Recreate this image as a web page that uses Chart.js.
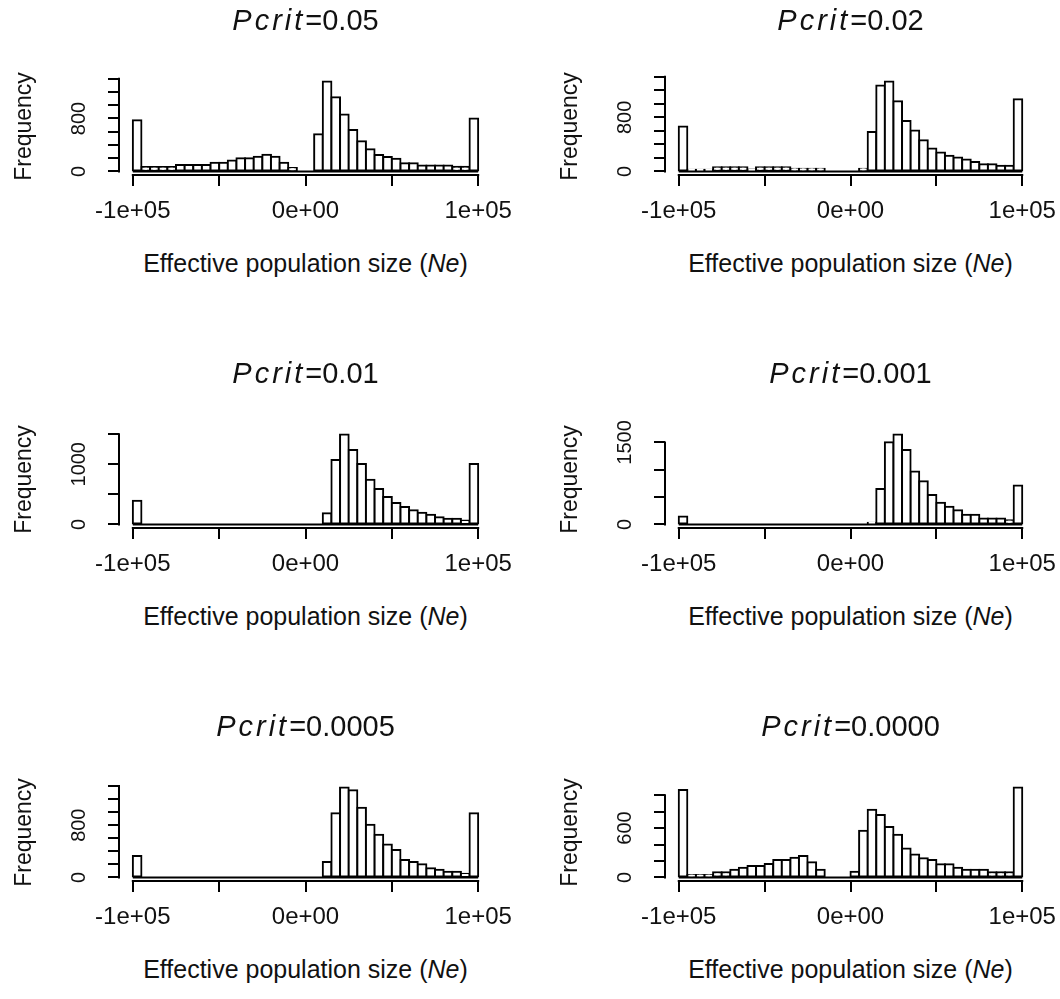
<!DOCTYPE html>
<html>
<head>
<meta charset="utf-8">
<script src="https://cdn.jsdelivr.net/npm/chart.js@4.4.1/dist/chart.umd.min.js"></script>
<style>
  html, body { margin: 0; padding: 0; background: #fff; overflow: hidden; }
  body { width: 1060px; height: 999px; position: relative; font-family: "Liberation Sans", Arial, sans-serif; color: #111; }
  canvas.panel { position: absolute; }
  .ttl { position: absolute; width: 400px; text-align: center; font-size: 29px; line-height: 34px; white-space: nowrap; }
  .ttl i { letter-spacing: 3px; }
  .xt { position: absolute; width: 440px; text-align: center; font-size: 25px; line-height: 30px; white-space: nowrap; }
</style>
</head>
<body>
<script>
// histogram breaks (Ne), 40 bins of 5000
const breaks = [-100000, -95000, -90000, -85000, -80000, -75000, -70000, -65000, -60000, -55000,
  -50000, -45000, -40000, -35000, -30000, -25000, -20000, -15000, -10000, -5000, 0,
  5000, 10000, 15000, 20000, 25000, 30000, 35000, 40000, 45000, 50000,
  55000, 60000, 65000, 70000, 75000, 80000, 85000, 90000, 95000, 100000];

const pcrit = ['0.05', '0.02', '0.01', '0.001', '0.0005', '0.0000'];

// counts per bin
const counts005 = [775, 65, 65, 65, 65, 95, 95, 95, 95, 130, 130, 165, 200, 200, 220, 250, 220, 130, 50, 0,
  0, 563, 1358, 1121, 860, 627, 455, 336, 247, 217, 193, 124, 124, 89, 89, 89, 89, 69, 69, 800];
const counts002 = [665, 25, 25, 25, 63, 63, 63, 63, 30, 63, 63, 63, 63, 40, 40, 40, 40, 0, 0, 0,
  0, 40, 582, 1270, 1329, 1038, 747, 606, 461, 340, 281, 233, 204, 175, 141, 107, 107, 82, 82, 1067];
const counts001 = [395, 0, 0, 0, 0, 0, 0, 0, 0, 0, 0, 0, 0, 0, 0, 0, 0, 0, 0, 0,
  0, 0, 187, 1071, 1493, 1235, 1005, 741, 587, 456, 357, 291, 236, 192, 159, 121, 93, 93, 66, 1005];
const counts0001 = [144, 0, 0, 0, 0, 0, 0, 0, 0, 0, 0, 0, 0, 0, 0, 0, 0, 0, 0, 0,
  0, 0, 30, 650, 1505, 1643, 1360, 969, 789, 536, 397, 325, 259, 175, 175, 108, 108, 108, 78, 710];
const counts00005 = [328, 0, 0, 0, 0, 0, 0, 0, 0, 0, 0, 0, 0, 0, 0, 0, 0, 0, 0, 0,
  0, 0, 237, 983, 1376, 1335, 1068, 806, 655, 504, 418, 267, 237, 202, 141, 116, 86, 86, 55, 983];
const counts00000 = [1064, 28, 28, 28, 64, 64, 92, 116, 140, 140, 164, 212, 212, 240, 260, 184, 92, 0, 0, 0,
  68, 568, 824, 760, 612, 520, 352, 280, 232, 212, 160, 160, 116, 92, 92, 92, 64, 64, 64, 1092];

const xTicks = [-100000, -50000, 0, 50000, 100000];
const xLabels = { '-100000': '-1e+05', '0': '0e+00', '100000': '1e+05' };

const yTicks200 = [0, 200, 400, 600, 800, 1000, 1200, 1400];
const yTicks500 = [0, 500, 1000, 1500];
const yTicks200s = [0, 200, 400, 600, 800, 1000];

const panels = [
  { counts: counts005,   ticks: yTicks200,  labels: [0, 800] },
  { counts: counts002,   ticks: yTicks200,  labels: [0, 800] },
  { counts: counts001,   ticks: yTicks500,  labels: [0, 1000] },
  { counts: counts0001,  ticks: yTicks500,  labels: [0, 1500] },
  { counts: counts00005, ticks: yTicks200,  labels: [0, 800] },
  { counts: counts00000, ticks: yTicks200s, labels: [0, 600] },
];

const FONT = '"Liberation Sans", Arial, sans-serif';
Chart.defaults.font.family = FONT;
Chart.defaults.color = '#111';

const ROW_TOP = [0, 353, 706];
const CAN_W = 514, CAN_H = 240;
const PLOT_TOP = 78, PLOT_BOTTOM = 175, PLOT_LEFT = 119;

// R style axes: line only from first to last tick, rotated y labels
function rAxes(yLabels) {
  return {
    id: 'rAxes',
    afterDatasetsDraw(chart) {
      const { ctx, chartArea, scales: { x, y } } = chart;
      ctx.save();
      ctx.strokeStyle = '#000';
      ctx.lineWidth = 2;
      const y0 = y.getPixelForValue(0);
      ctx.beginPath();
      ctx.moveTo(x.getPixelForValue(breaks[0]), y0);
      ctx.lineTo(x.getPixelForValue(breaks[breaks.length - 1]), y0);
      ctx.stroke();
      // x axis
      ctx.beginPath();
      ctx.moveTo(x.getPixelForValue(x.ticks[0].value) - 1, chartArea.bottom);
      ctx.lineTo(x.getPixelForValue(x.ticks[x.ticks.length - 1].value) + 1, chartArea.bottom);
      ctx.stroke();
      // y axis
      ctx.beginPath();
      ctx.moveTo(chartArea.left, y.getPixelForValue(y.ticks[0].value) + 1);
      ctx.lineTo(chartArea.left, y.getPixelForValue(y.ticks[y.ticks.length - 1].value) - 1);
      ctx.stroke();
      ctx.fillStyle = '#111';
      ctx.font = '20px ' + FONT;
      ctx.textAlign = 'center';
      ctx.textBaseline = 'middle';
      yLabels.forEach(v => {
        ctx.save();
        ctx.translate(chartArea.left - 40, y.getPixelForValue(v));
        ctx.rotate(-Math.PI / 2);
        ctx.fillText(String(v), 0, 0);
        ctx.restore();
      });
      ctx.restore();
    }
  };
}

panels.forEach((p, i) => {
  const col = i % 2, row = Math.floor(i / 2);
  const left = col ? 546 : 0, top = ROW_TOP[row];
  const plotRight = col ? 490 : 492;

  const cv = document.createElement('canvas');
  cv.className = 'panel';
  cv.width = CAN_W; cv.height = CAN_H;
  cv.style.left = left + 'px'; cv.style.top = top + 'px';
  cv.style.width = CAN_W + 'px'; cv.style.height = CAN_H + 'px';
  document.body.appendChild(cv);

  const centers = breaks.slice(0, -1).map((b, k) => (b + breaks[k + 1]) / 2);
  const M = Math.max(...p.counts);

  new Chart(cv, {
    type: 'bar',
    data: {
      datasets: [{
        data: centers.map((x, k) => ({ x, y: p.counts[k] })),
        backgroundColor: '#fff',
        borderColor: '#000',
        borderWidth: 2,
        borderSkipped: false,
        inflateAmount: 1,
        barPercentage: 1,
        categoryPercentage: 1
      }]
    },
    options: {
      responsive: false,
      animation: false,
      layout: { padding: { top: PLOT_TOP, right: CAN_W - plotRight, bottom: 0, left: 0 } },
      plugins: { legend: { display: false }, tooltip: { enabled: false }, title: { display: false } },
      scales: {
        x: {
          type: 'linear', offset: false, min: -108000, max: 108000,
          afterBuildTicks: s => { s.ticks = xTicks.map(v => ({ value: v })); },
          afterFit: s => { s.height = CAN_H - PLOT_BOTTOM; s.paddingLeft = 0; s.paddingRight = 0; },
          grid: { offset: false, drawOnChartArea: false, drawTicks: true, tickLength: 11, color: '#000', lineWidth: 2 },
          border: { display: false },
          ticks: {
            autoSkip: false, maxRotation: 0, minRotation: 0, padding: 11, color: '#111',
            font: { size: 24 },
            callback: v => xLabels[String(v)] || ''
          }
        },
        y: {
          min: -0.04 * M, max: 1.04 * M,
          afterBuildTicks: s => { s.ticks = p.ticks.map(v => ({ value: v })); },
          afterFit: s => { s.width = PLOT_LEFT; },
          grid: { drawOnChartArea: false, drawTicks: true, tickLength: 11, color: '#000', lineWidth: 2 },
          border: { display: false },
          ticks: { display: false },
          title: { display: true, text: 'Frequency', color: '#111', font: { size: 23 }, padding: { top: 11, bottom: 0 } }
        }
      }
    },
    plugins: [rAxes(p.labels)]
  });

  const cx = left + (PLOT_LEFT + plotRight) / 2;
  const t = document.createElement('div');
  t.className = 'ttl';
  t.style.left = (cx - 200) + 'px';
  t.style.top = (top + 20 - 17) + 'px';
  t.innerHTML = '<i>Pcrit</i>=' + pcrit[i];
  document.body.appendChild(t);

  const xt = document.createElement('div');
  xt.className = 'xt';
  xt.style.left = (cx - 220) + 'px';
  xt.style.top = (top + 263 - 15) + 'px';
  xt.innerHTML = 'Effective population size (<i>Ne</i>)';
  document.body.appendChild(xt);
});
</script>
</body>
</html>
